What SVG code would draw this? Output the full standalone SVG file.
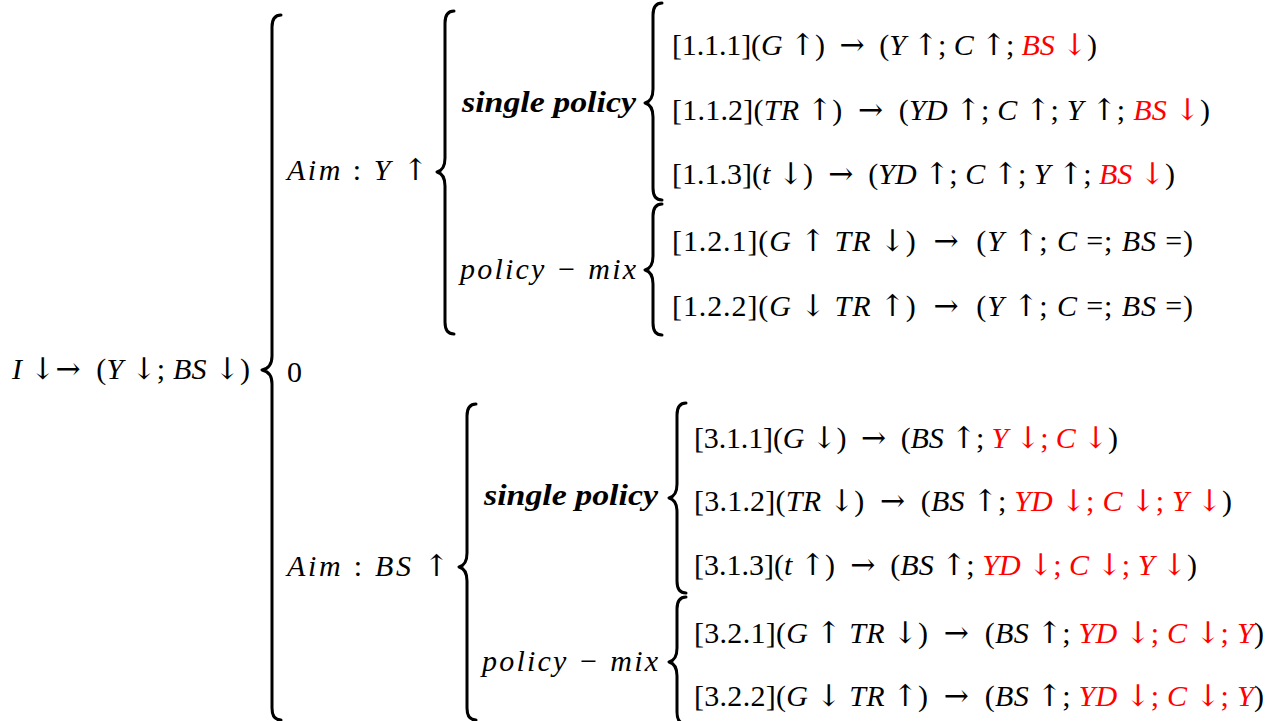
<svg xmlns="http://www.w3.org/2000/svg" width="1267" height="721" viewBox="0 0 1267 721">
<style>
text{font-family:"Liberation Serif","DejaVu Serif",serif;font-size:30px;fill:#000;white-space:pre}
.i{font-style:italic}
.r{fill:#ff0000}
.a{font-family:"DejaVu Serif","Liberation Serif",serif;font-size:30px}
.lbl{font-style:italic;font-weight:bold}
.br{fill:none;stroke:#000;stroke-width:3;stroke-linecap:round;stroke-linejoin:round}
</style>
<rect width="1267" height="721" fill="#fff"/>
<g id="connectors">
<path class="br" d="M281,15 Q272,15 272,27 L272,356 Q272,368 262,370 Q272,372 272,384 L272,708 Q272,720 281,720"/>
<path class="br" d="M454,11 Q445,11 445,23 L445,158 Q445,170 437,172 Q445,174 445,186 L445,322 Q445,334 454,334"/>
<path class="br" d="M662,3 Q653,3 653,15 L653,89 Q653,101 645,103 Q653,105 653,117 L653,188 Q653,200 662,200"/>
<path class="br" d="M662,204 Q653,204 653,216 L653,256 Q653,268 645,270 Q653,272 653,284 L653,323 Q653,335 662,335"/>
<path class="br" d="M476,404 Q467,404 467,416 L467,553 Q467,565 459,567 Q467,569 467,581 L467,708 Q467,720 476,720"/>
<path class="br" d="M686,403 Q677,403 677,415 L677,484 Q677,496 669,498 Q677,500 677,512 L677,581 Q677,593 686,593"/>
<path class="br" d="M686,597 Q677,597 677,609 L677,648 Q677,660 669,662 Q677,664 677,676 L677,712 Q677,724 686,724"/>
</g>
<g id="root"><text x="12" y="379" textLength="238" lengthAdjust="spacing"><tspan class="i">I</tspan> <tspan class="a">↓→</tspan>  (<tspan class="i">Y</tspan> <tspan class="a">↓</tspan>; <tspan class="i">BS</tspan> <tspan class="a">↓</tspan>)</text></g>
<g id="zero"><text x="287" y="382">0</text></g>
<g id="aimY"><text x="287" y="180" textLength="141" lengthAdjust="spacing"><tspan class="i">Aim</tspan> : <tspan class="i">Y</tspan> <tspan class="a">↑</tspan></text></g>
<g id="aimBS"><text x="287" y="576" textLength="162" lengthAdjust="spacing"><tspan class="i">Aim</tspan> : <tspan class="i">BS</tspan> <tspan class="a">↑</tspan></text></g>
<g id="single1"><text class="lbl" x="462" y="112" textLength="174" lengthAdjust="spacingAndGlyphs">single policy</text></g>
<g id="mix1"><text class="i" x="460" y="279" textLength="176" lengthAdjust="spacing">policy − mix</text></g>
<g id="single3"><text class="lbl" x="484" y="505" textLength="174" lengthAdjust="spacingAndGlyphs">single policy</text></g>
<g id="mix3"><text class="i" x="482" y="671" textLength="176" lengthAdjust="spacing">policy − mix</text></g>
<g id="r111"><text x="672" y="55" textLength="425" lengthAdjust="spacing">[1.1.1](<tspan class="i">G</tspan> <tspan class="a">↑</tspan>)  <tspan class="a">→</tspan>  (<tspan class="i">Y</tspan> <tspan class="a">↑</tspan>; <tspan class="i">C</tspan> <tspan class="a">↑</tspan>; <tspan class="r"><tspan class="i">BS</tspan> <tspan class="a">↓</tspan></tspan>)</text></g>
<g id="r112"><text x="672" y="120" textLength="538" lengthAdjust="spacing">[1.1.2](<tspan class="i">TR</tspan> <tspan class="a">↑</tspan>)  <tspan class="a">→</tspan>  (<tspan class="i">YD</tspan> <tspan class="a">↑</tspan>; <tspan class="i">C</tspan> <tspan class="a">↑</tspan>; <tspan class="i">Y</tspan> <tspan class="a">↑</tspan>; <tspan class="r"><tspan class="i">BS</tspan> <tspan class="a">↓</tspan></tspan>)</text></g>
<g id="r113"><text x="672" y="184" textLength="503" lengthAdjust="spacing">[1.1.3](<tspan class="i">t</tspan> <tspan class="a">↓</tspan>)  <tspan class="a">→</tspan>  (<tspan class="i">YD</tspan> <tspan class="a">↑</tspan>; <tspan class="i">C</tspan> <tspan class="a">↑</tspan>; <tspan class="i">Y</tspan> <tspan class="a">↑</tspan>; <tspan class="r"><tspan class="i">BS</tspan> <tspan class="a">↓</tspan></tspan>)</text></g>
<g id="r121"><text x="672" y="251" textLength="521" lengthAdjust="spacing">[1.2.1](<tspan class="i">G</tspan> <tspan class="a">↑</tspan> <tspan class="i">TR</tspan> <tspan class="a">↓</tspan>)  <tspan class="a">→</tspan>  (<tspan class="i">Y</tspan> <tspan class="a">↑</tspan>; <tspan class="i">C</tspan> =; <tspan class="i">BS</tspan> =)</text></g>
<g id="r122"><text x="672" y="316" textLength="521" lengthAdjust="spacing">[1.2.2](<tspan class="i">G</tspan> <tspan class="a">↓</tspan> <tspan class="i">TR</tspan> <tspan class="a">↑</tspan>)  <tspan class="a">→</tspan>  (<tspan class="i">Y</tspan> <tspan class="a">↑</tspan>; <tspan class="i">C</tspan> =; <tspan class="i">BS</tspan> =)</text></g>
<g id="r311"><text x="694" y="448" textLength="424" lengthAdjust="spacing">[3.1.1](<tspan class="i">G</tspan> <tspan class="a">↓</tspan>)  <tspan class="a">→</tspan>  (<tspan class="i">BS</tspan> <tspan class="a">↑</tspan>; <tspan class="r"><tspan class="i">Y</tspan> <tspan class="a">↓</tspan>; <tspan class="i">C</tspan> <tspan class="a">↓</tspan></tspan>)</text></g>
<g id="r312"><text x="694" y="511" textLength="538" lengthAdjust="spacing">[3.1.2](<tspan class="i">TR</tspan> <tspan class="a">↓</tspan>)  <tspan class="a">→</tspan>  (<tspan class="i">BS</tspan> <tspan class="a">↑</tspan>; <tspan class="r"><tspan class="i">YD</tspan> <tspan class="a">↓</tspan>; <tspan class="i">C</tspan> <tspan class="a">↓</tspan>; <tspan class="i">Y</tspan> <tspan class="a">↓</tspan></tspan>)</text></g>
<g id="r313"><text x="694" y="575" textLength="503" lengthAdjust="spacing">[3.1.3](<tspan class="i">t</tspan> <tspan class="a">↑</tspan>)  <tspan class="a">→</tspan>  (<tspan class="i">BS</tspan> <tspan class="a">↑</tspan>; <tspan class="r"><tspan class="i">YD</tspan> <tspan class="a">↓</tspan>; <tspan class="i">C</tspan> <tspan class="a">↓</tspan>; <tspan class="i">Y</tspan> <tspan class="a">↓</tspan></tspan>)</text></g>
<g id="r321"><text x="694" y="643" textLength="570" lengthAdjust="spacing">[3.2.1](<tspan class="i">G</tspan> <tspan class="a">↑</tspan> <tspan class="i">TR</tspan> <tspan class="a">↓</tspan>)  <tspan class="a">→</tspan>  (<tspan class="i">BS</tspan> <tspan class="a">↑</tspan>; <tspan class="r"><tspan class="i">YD</tspan> <tspan class="a">↓</tspan>; <tspan class="i">C</tspan> <tspan class="a">↓</tspan>; <tspan class="i">Y</tspan></tspan>)</text></g>
<g id="r322"><text x="694" y="706" textLength="570" lengthAdjust="spacing">[3.2.2](<tspan class="i">G</tspan> <tspan class="a">↓</tspan> <tspan class="i">TR</tspan> <tspan class="a">↑</tspan>)  <tspan class="a">→</tspan>  (<tspan class="i">BS</tspan> <tspan class="a">↑</tspan>; <tspan class="r"><tspan class="i">YD</tspan> <tspan class="a">↓</tspan>; <tspan class="i">C</tspan> <tspan class="a">↓</tspan>; <tspan class="i">Y</tspan></tspan>)</text></g>
</svg>
